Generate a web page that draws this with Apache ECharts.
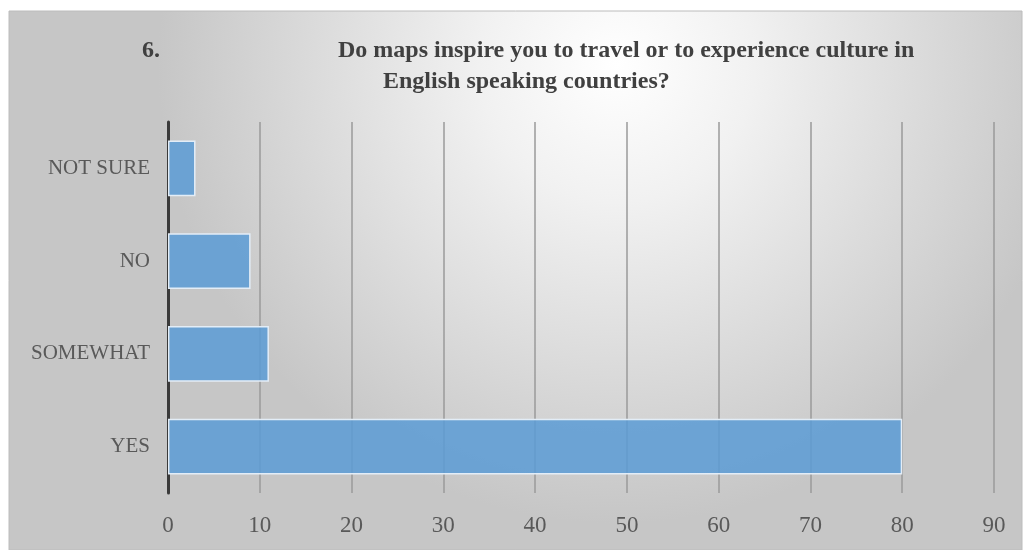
<!DOCTYPE html>
<html>
<head>
<meta charset="utf-8">
<script src="https://cdn.jsdelivr.net/npm/echarts@6/dist/echarts.min.js"></script>
<style>
  html, body { margin: 0; padding: 0; background: #fff; }
</style>
</head>
<body>
<div id="BarChart" style="width: 1025px;height:550px;"></div>
<script>
// 数据
var categories = ["YES", "SOMEWHAT", "NO", "NOT SURE"];
var answers = [80, 11, 9, 3];
var xTicks = { min: 0, max: 90, interval: 10 };

var myChart = echarts.init(document.getElementById("BarChart"));
var serif = "'Liberation Serif', 'Times New Roman', serif";
var titleStyle = { fontFamily: serif, fontSize: 24, fontWeight: "bold", color: "#404040" };

var option = {
  backgroundColor: "#ffffff",
  graphic: [
    {
      // 背景渐变
      type: "rect",
      z: -10,
      shape: { x: 9, y: 11, width: 1013, height: 539 },
      style: {
        fill: new echarts.graphic.RadialGradient(0.6, 0.1, 0.85, [
          { offset: 0, color: "#ffffff" },
          { offset: 0.3, color: "#f1f1f1" },
          { offset: 1, color: "#c6c6c6" }
        ]),
        stroke: "#bcbcbc",
        lineWidth: 1
      }
    }
  ],
  title: [
    { text: "6.", left: 137, top: 34, textStyle: titleStyle },
    { text: "Do maps inspire you to travel or to experience culture in", left: 333, top: 34, textStyle: titleStyle },
    { text: "English speaking countries?", left: 378, top: 65, textStyle: titleStyle }
  ],
  grid: {
    left: 168,
    right: 31,
    top: 122,
    bottom: 57,
    containLabel: false
  },
  xAxis: {
    type: "value",
    min: xTicks.min,
    max: xTicks.max,
    interval: xTicks.interval,
    axisLine: { show: false },
    axisTick: { show: false },
    axisLabel: {
      fontFamily: serif,
      fontSize: 23,
      color: "#595959",
      margin: 21
    },
    splitLine: {
      show: true,
      lineStyle: { color: "#9a9a9a", width: 1.5 }
    }
  },
  yAxis: {
    type: "category",
    data: categories,
    axisLine: { show: true, lineStyle: { color: "#3a3a3a", width: 3 } },
    axisTick: { show: false },
    axisLabel: {
      fontFamily: serif,
      fontSize: 21,
      color: "#595959",
      margin: 18
    }
  },
  series: [
    {
      name: "answers",
      type: "bar",
      barWidth: "60%",
      data: answers,
      itemStyle: {
        color: "rgba(91,155,213,0.85)",
        borderColor: "#e3edf7",
        borderWidth: 1.5
      },
      z: 3
    }
  ]
};

myChart.setOption(option);
</script>
</body>
</html>
